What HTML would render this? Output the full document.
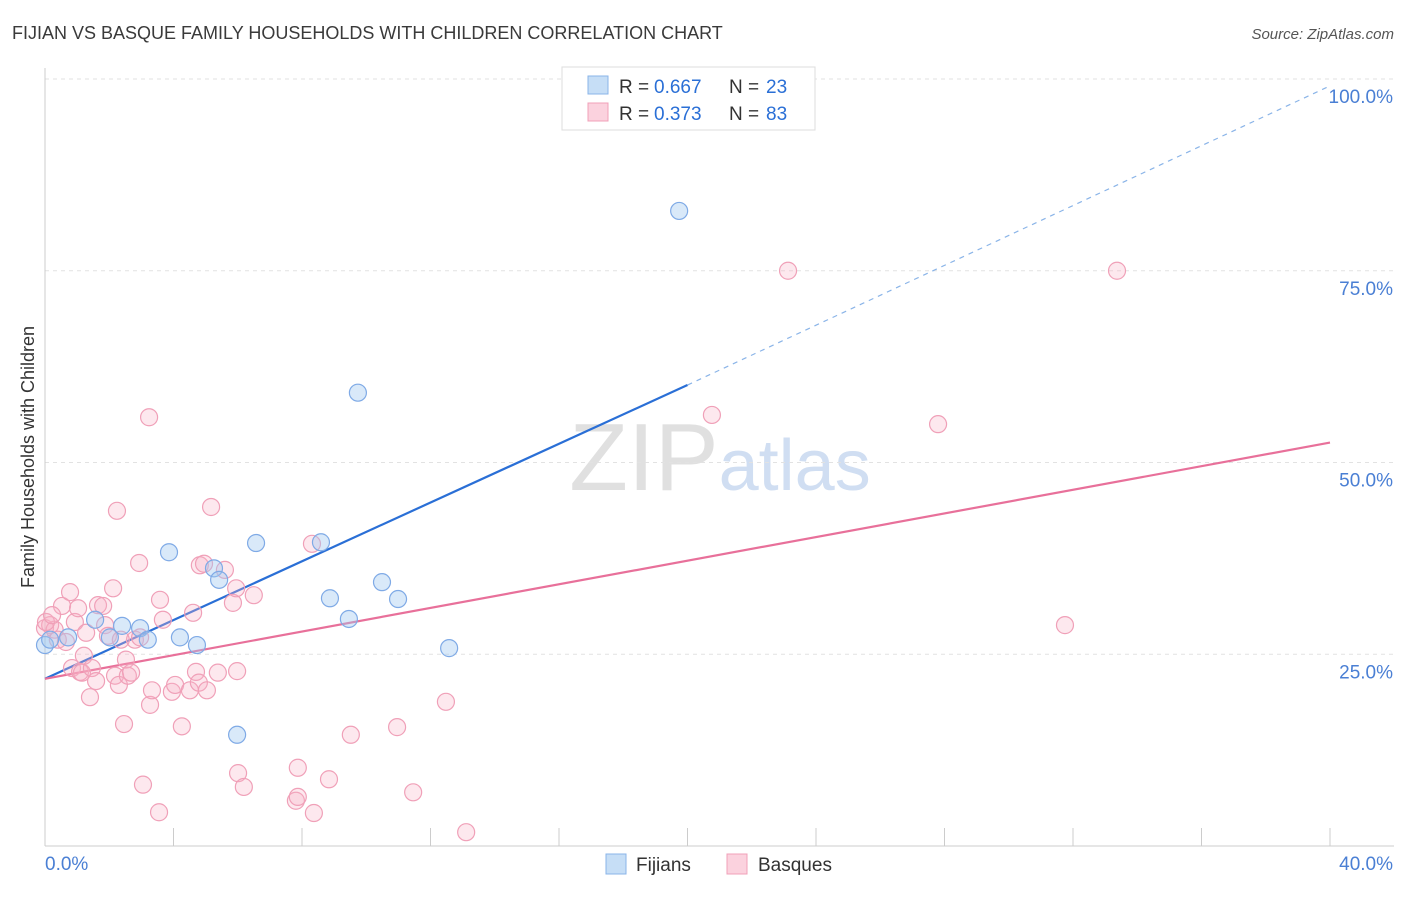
<!DOCTYPE html>
<html><head><meta charset="utf-8">
<style>
body{margin:0;background:#fff;font-family:"Liberation Sans",sans-serif;}
svg text{font-family:"Liberation Sans",sans-serif;}
</style></head>
<body>
<svg id="chart" width="1406" height="892" xmlns="http://www.w3.org/2000/svg">
<text x="12" y="39" font-size="18" fill="#3a3a3a">FIJIAN VS BASQUE FAMILY HOUSEHOLDS WITH CHILDREN CORRELATION CHART</text>
<text x="1394" y="39" font-size="15" fill="#555" text-anchor="end" font-style="italic">Source: ZipAtlas.com</text>
<text x="720" y="490" font-size="96" text-anchor="middle" fill="#e0e0e0" font-family="Liberation Serif">ZIP<tspan fill="#d0def2" font-family="Liberation Sans" font-size="72">atlas</tspan></text>
<g id="grid"></g>
<g id="axes"></g>
<g id="lines"></g>
<g id="pts"></g>
<text transform="translate(34,457) rotate(-90)" font-size="18" fill="#333" text-anchor="middle">Family Households with Children</text>
<g>
<rect x="562" y="67" width="253" height="63" fill="#fff" stroke="#ddd"/>
<rect x="588" y="76" width="20" height="18" fill="rgba(160,200,240,0.6)" stroke="#8ab4e8"/>
<rect x="588" y="103" width="20" height="18" fill="rgba(248,180,200,0.6)" stroke="#f0a0b8"/>
<text x="619" y="93" font-size="19" fill="#333">R =</text>
<text x="654" y="93" font-size="19" fill="#2a6fd6">0.667</text>
<text x="729" y="93" font-size="19" fill="#333">N =</text>
<text x="766" y="93" font-size="19" fill="#2a6fd6">23</text>
<text x="619" y="120" font-size="19" fill="#333">R =</text>
<text x="654" y="120" font-size="19" fill="#2a6fd6">0.373</text>
<text x="729" y="120" font-size="19" fill="#333">N =</text>
<text x="766" y="120" font-size="19" fill="#2a6fd6">83</text>
</g>
<g>
<rect x="606" y="854" width="20" height="20" fill="rgba(160,200,240,0.6)" stroke="#8ab4e8"/>
<text x="636" y="871" font-size="19" fill="#333">Fijians</text>
<rect x="727" y="854" width="20" height="20" fill="rgba(248,180,200,0.6)" stroke="#f0a0b8"/>
<text x="758" y="871" font-size="19" fill="#333">Basques</text>
</g>
</svg>
<script>
const fijX=[0,0.72,1.56,2.02,2.4,2.96,3.2,3.86,4.2,4.73,5.26,5.42,5.98,6.57,8.59,8.87,9.46,9.74,10.49,10.99,12.58,19.74,0.16];
const fijY=[26.2,27.2,29.5,27.2,28.7,28.4,26.9,38.3,27.2,26.2,36.2,34.7,14.5,39.5,39.6,32.3,29.6,59.1,34.4,32.2,25.8,82.8,26.9];
const basX=[0,.16,.3,.4,.53,.65,.78,.84,.93,1.03,1.09,1.15,1.21,1.28,1.4,1.46,1.59,1.65,1.81,1.87,1.96,2.12,2.18,2.24,2.3,2.46,2.52,2.58,2.68,2.8,2.93,2.96,3.05,3.24,3.27,3.33,3.55,3.67,3.95,4.05,4.26,4.51,4.61,4.7,4.79,4.82,4.95,5.04,5.17,5.38,5.6,5.85,5.95,5.98,6.01,6.19,6.5,7.81,7.87,7.87,8.31,8.37,8.84,9.52,10.96,11.46,12.48,13.11,20.76,23.13,27.8,31.75,33.37,.03,.22,2.36,3.58];
const basY=[28.4,28.8,28.2,26.9,31.3,26.6,33.1,23.2,29.2,31,22.7,22.6,24.8,27.8,19.4,23.2,21.5,31.4,31.3,28.8,27.4,33.6,22.2,43.7,21,15.9,24.3,22.2,22.6,26.9,36.9,27.2,8,55.9,18.4,20.3,4.4,29.5,20.1,21,15.6,20.3,30.4,22.7,21.3,36.6,36.8,20.3,44.2,22.6,36,31.7,33.6,22.8,9.5,7.7,32.7,5.9,6.4,10.2,39.4,4.3,8.7,14.5,15.5,7,18.8,1.8,56.2,75,55,28.8,75,29.2,30.1,26.9,32.1];
const yTicks=[25,50,75,100];
const yTickLabels=["25.0%","50.0%","75.0%","100.0%"];
const xEndLabels=["0.0%","40.0%"];
const fijLine=[21.8,60.1,99.1];
const basLine=[21.8,52.6];
const NS="http://www.w3.org/2000/svg";
const X=v=>45+v/40*1285, Y=v=>846-v/100*767;
function mk(p,t,a){const e=document.createElementNS(NS,t);for(const k in a)e.setAttribute(k,a[k]);p.appendChild(e);return e;}
const grid=document.getElementById('grid'),axes=document.getElementById('axes'),lines=document.getElementById('lines'),pts=document.getElementById('pts');
yTicks.forEach((t,i)=>{
 const l=mk(grid,'line',{x1:45,x2:1394,y1:Y(t),y2:Y(t),stroke:'#e2e2e2','stroke-dasharray':'4,4'});
 
 
 const tx=mk(axes,'text',{x:1393,y:Y(t)+24,'font-size':19,fill:'#4a7fd4','text-anchor':'end'});
 tx.textContent=yTickLabels[i];
 
 
});
mk(axes,'line',{x1:45,x2:45,y1:68,y2:846,stroke:'#ccc'});
mk(axes,'line',{x1:45,x2:1394,y1:846,y2:846,stroke:'#ccc'});
for(let i=0;i<=10;i++){const t=mk(axes,'line',{x1:X(i*4),x2:X(i*4),y1:828,y2:846,stroke:'#ccc'});
 
 }
const a0=mk(axes,'text',{x:45,y:870,'font-size':19,fill:'#4a7fd4'});a0.textContent=xEndLabels[0];


const a1=mk(axes,'text',{x:1393,y:870,'font-size':19,fill:'#4a7fd4','text-anchor':'end'});a1.textContent=xEndLabels[1];


function dot(x,y,f,s,n){const c=mk(pts,'circle',{cx:X(x),cy:Y(y),r:8.5,fill:f,stroke:s,'stroke-width':1.2});
 
 }
basX.forEach((x,i)=>dot(x,basY[i],'rgba(248,180,200,0.3)','#f0a0b8','basque-point'));
fijX.forEach((x,i)=>dot(x,fijY[i],'rgba(160,200,240,0.4)','#7faae6','fijian-point'));
const l1=mk(lines,'line',{x1:X(0),y1:Y(fijLine[0]),x2:X(20),y2:Y(fijLine[1]),stroke:'#2a6fd6','stroke-width':2.2});


const l2=mk(lines,'line',{x1:X(20),y1:Y(fijLine[1]),x2:X(40),y2:Y(fijLine[2]),stroke:'#8ab4e8','stroke-width':1.2,'stroke-dasharray':'5,5'});


const l3=mk(lines,'line',{x1:X(0),y1:Y(basLine[0]),x2:X(40),y2:Y(basLine[1]),stroke:'#e8709a','stroke-width':2.2});


</script>
</body></html>
